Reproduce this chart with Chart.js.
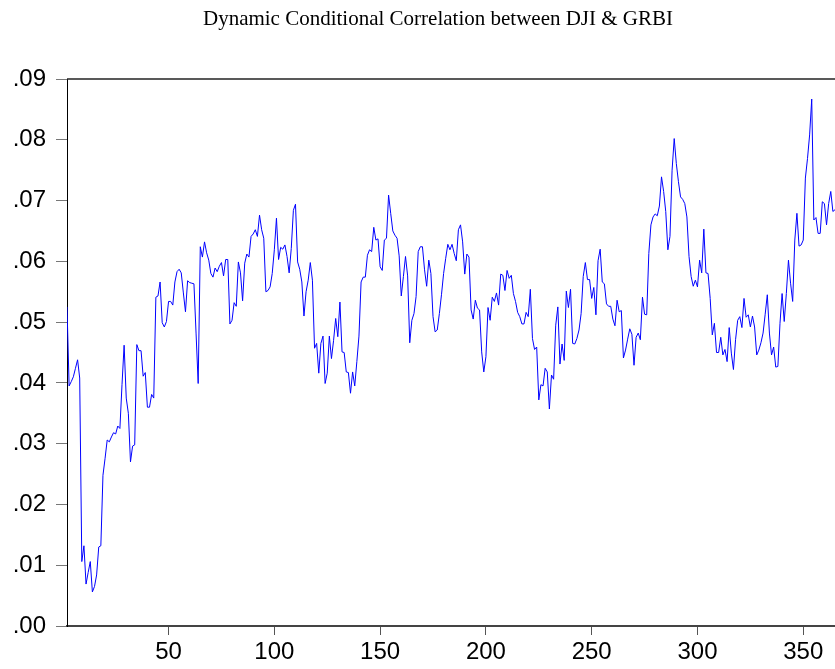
<!DOCTYPE html>
<html>
<head>
<meta charset="utf-8">
<title>DCC DJI GRBI</title>
<script src="https://cdn.jsdelivr.net/npm/chart.js@4.4.0/dist/chart.umd.min.js"></script>
<style>
  body { margin: 0; background: #fff; }
  canvas { display: block; }
</style>
</head>
<body>
<canvas id="chart" width="835" height="669"></canvas>
<script>
var firstObs = 2;
var lastObs = 365;
var dcc = [
  .0525, .0395, .0402, .0410, .0424, .0438, .0408, .0106, .0132, .0069,
  .0088, .0106, .0056, .0065, .0084, .0130, .0132, .0248, .0276, .0306,
  .0303, .0311, .0318, .0316, .0329, .0325, .0397, .0462, .0375, .0350,
  .0270, .0296, .0298, .0463, .0453, .0453, .0411, .0417, .0360, .0360,
  .0381, .0375, .0541, .0543, .0566, .0499, .0492, .0501, .0534, .0534,
  .0528, .0566, .0583, .0587, .0581, .0548, .0517, .0568, .0565,
  .0564, .0563, .0482, .0399, .0624, .0607, .0632, .0614, .0602, .0580,
  .0574, .0589, .0583, .0592, .0598, .0576, .0603, .0603, .0497, .0503,
  .0532, .0526, .0599, .0581, .0535, .0597, .0612, .0607, .0641, .0645,
  .0652, .0641, .0676, .0652, .0638, .0550, .0552, .0558, .0580, .0619,
  .0671, .0603, .0623, .0620, .0627, .0608, .0581, .0621, .0684, .0694,
  .0599, .0587, .0566, .0510, .0550, .0569,
  .0598, .0569, .0457, .0465, .0416, .0465, .0477, .0399, .0416, .0477,
  .0440, .0470, .0506, .0476, .0533, .0451, .0450, .0418, .0417, .0383,
  .0418, .0395, .0435, .0477, .0566, .0574, .0574, .0610, .0619, .0616,
  .0656, .0635, .0637, .0591, .0585, .0635, .0638, .0709, .0679, .0650,
  .0643, .0638, .0609, .0543, .0575, .0608, .0576, .0466, .0503, .0514,
  .0542, .0616, .0624, .0624, .0586, .0559, .0602,
  .0580, .0509, .0484, .0487, .0514, .0545, .0580,
  .0605, .0628, .0619, .0628, .0613, .0601, .0652, .0660, .0632, .0579,
  .0612, .0607, .0520, .0505, .0536, .0523, .0520, .0451, .0418, .0443,
  .0524, .0503, .0541, .0534, .0548, .0528, .0579, .0577, .0552, .0585,
  .0572, .0577, .0547, .0534, .0516, .0509, .0497, .0497, .0516, .0509,
  .0554, .0473, .0455, .0459, .0372, .0397, .0395, .0424, .0418, .0357,
  .0413, .0406, .0495, .0525, .0431, .0464, .0437, .0551, .0524, .0554,
  .0465, .0464, .0473, .0487, .0514, .0575, .0598, .0570, .0570, .0539,
  .0557, .0512, .0601, .0620, .0566, .0563, .0530, .0526, .0526, .0505,
  .0494, .0536, .0517, .0519, .0441, .0454, .0472, .0489, .0480, .0429,
  .0475, .0482, .0471, .0541, .0513, .0512, .0613, .0660, .0673, .0678,
  .0675, .0691, .0739, .0715, .0682, .0619, .0641, .0750, .0802, .0761,
  .0731, .0706, .0702, .0695, .0673, .0608, .0575, .0559, .0569, .0558,
  .0602, .0581, .0653, .0581, .0580, .0539, .0479, .0498, .0450, .0450,
  .0475, .0446, .0455, .0435, .0491, .0449, .0422, .0471, .0503, .0509,
  .0491, .0539, .0508, .0512, .0492, .0510, .0492, .0446, .0454, .0466,
  .0482, .0513, .0545, .0482, .0446, .0459, .0426, .0427, .0498, .0547,
  .0501, .0547, .0602, .0564, .0534, .0635, .0679, .0625, .0627, .0635,
  .0737, .0769, .0808, .0867, .0668, .0672, .0646, .0646, .0698, .0695,
  .0660, .0695, .0715, .0682, .0685
];

var xTickValues = [50, 100, 150, 200, 250, 300, 350];
var yTickValues = [0, .01, .02, .03, .04, .05, .06, .07, .08, .09];
var yTickLabels = ['.00', '.01', '.02', '.03', '.04', '.05', '.06', '.07', '.08', '.09'];

var titleText = 'Dynamic Conditional Correlation between DJI & GRBI';

(function () {
  var sans = "'Liberation Sans', Arial, sans-serif";
  var serif = "'Liberation Serif', 'Times New Roman', serif";

  // obs number -> value pairs for the linear x scale
  var points = dcc.map(function (v, i) {
    return { x: firstObs + i, y: v };
  });

  /* The EViews title sits a bit right of the canvas centre,
     and Chart.js draws no top edge, so both are done here */
  var frame = {
    id: 'frame',
    afterDraw: function (chart) {
      var a = chart.chartArea;
      var ctx = chart.ctx;
      ctx.save();
      ctx.strokeStyle = '#222';
      ctx.lineWidth = 1.5;
      ctx.beginPath();
      ctx.moveTo(a.left, a.top);
      ctx.lineTo(a.right, a.top);
      ctx.stroke();

      ctx.fillStyle = '#000';
      ctx.font = '21px ' + serif;
      ctx.textAlign = 'center';
      ctx.textBaseline = 'middle';
      ctx.fillText(titleText, 438, 19);
      ctx.restore();
    }
  };

  new Chart(document.getElementById('chart'), {
    type: 'line',
    data: {
      datasets: [{
        data: points,
        borderColor: '#0000ff',
        borderWidth: 1,
        pointRadius: 0,
        tension: 0,
        fill: false
      }]
    },
    options: {
      responsive: false,
      animation: false,
      devicePixelRatio: 1,
      layout: { padding: { left: 0, right: 0, top: 79, bottom: 0 } },
      plugins: {
        legend: { display: false },
        tooltip: { enabled: false },
        title: { display: false }
      },
      scales: {
        x: {
          type: 'linear',
          min: firstObs,
          max: lastObs,
          afterBuildTicks: function (scale) {
            scale.ticks = xTickValues.map(function (v) { return { value: v }; });
          },
          afterFit: function (scale) { scale.height = 43; },
          grid: { drawOnChartArea: false, drawTicks: true, tickLength: 9, color: '#555' },
          border: { color: '#444', width: 2 },
          ticks: {
            color: '#000',
            padding: 3,
            maxRotation: 0,
            font: { family: sans, size: 24 }
          }
        },
        y: {
          min: 0,
          max: 0.09,
          afterBuildTicks: function (scale) {
            scale.ticks = yTickValues.map(function (v) { return { value: v }; });
          },
          afterFit: function (scale) { scale.width = 67; },
          grid: { drawOnChartArea: false, drawTicks: true, tickLength: 11, color: '#777' },
          border: { color: '#000', width: 1 },
          ticks: {
            color: '#000',
            padding: 10,
            font: { family: sans, size: 24 },
            callback: function (value, index) { return yTickLabels[index]; }
          }
        }
      }
    },
    plugins: [frame]
  });
})();
</script>
</body>
</html>
